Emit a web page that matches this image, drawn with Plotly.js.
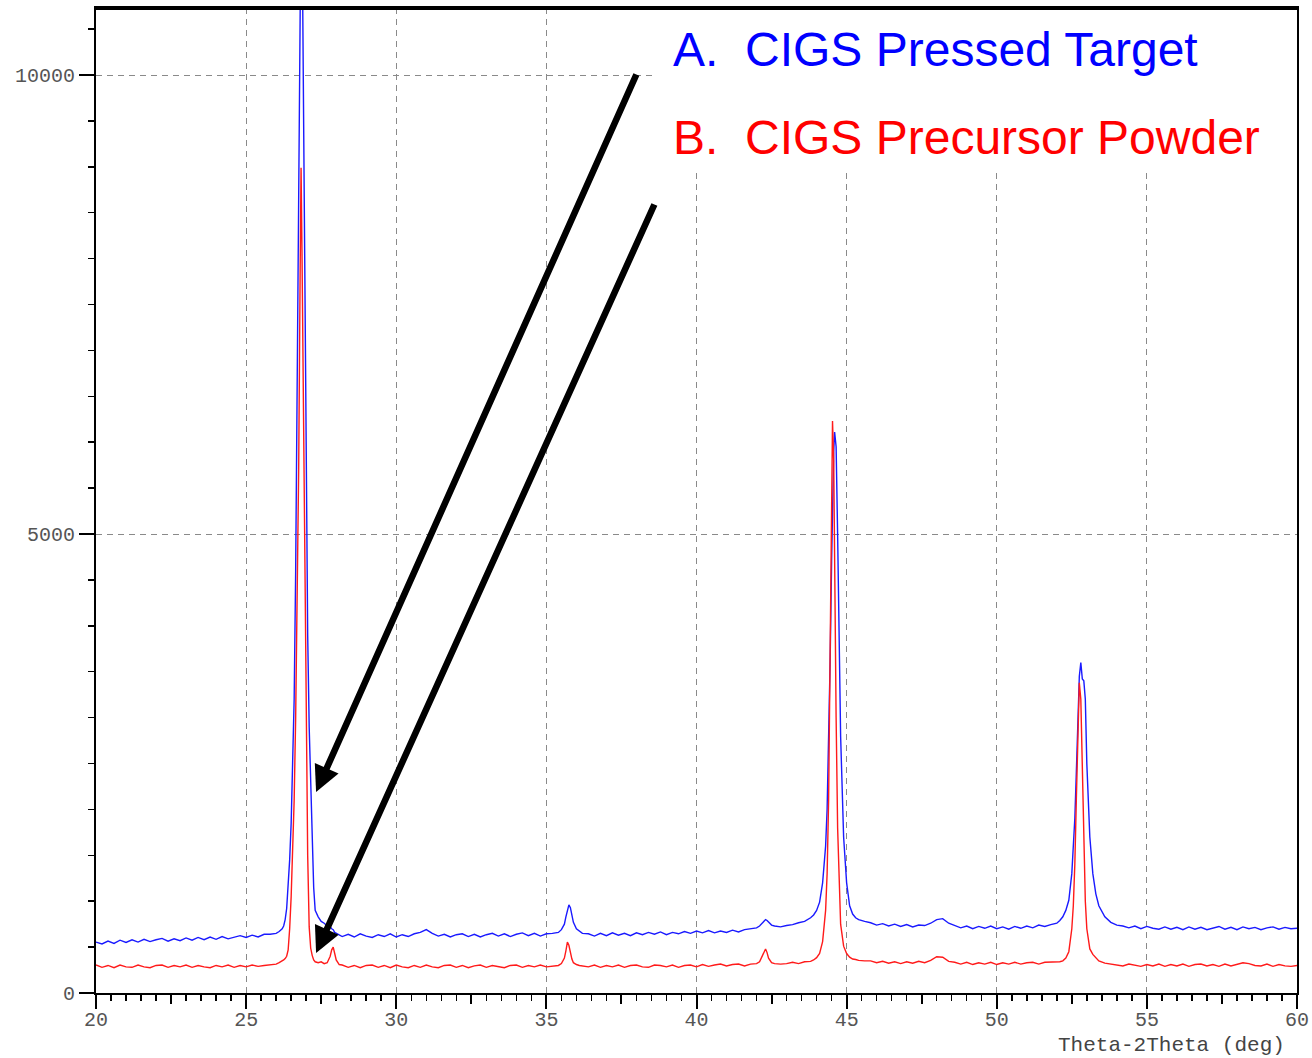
<!DOCTYPE html>
<html>
<head>
<meta charset="utf-8">
<script src="https://cdn.plot.ly/plotly-3.0.1.min.js"></script>
<style>html,body{margin:0;padding:0;background:#fff;}#chart{width:1312px;height:1058px;}</style>
</head>
<body>
<div id="chart"></div>
<script>
// 2-theta positions (deg)
const theta = [
  20.0,20.2,20.4,20.6,20.8,21.0,21.2,21.4,21.6,21.8,22.0,22.2,22.4,22.6,22.8,23.0,23.2,23.4,23.6,23.8,24.0,24.2,24.4,24.6,24.8,25.0,25.2,25.4,25.6,25.8,
  26.0,26.1,26.2,26.25,26.3,26.35,26.4,26.45,26.5,26.55,26.6,26.65,26.7,26.75,26.8,26.83,26.86,26.9,26.95,27.0,27.05,27.1,27.15,27.2,27.25,27.3,27.4,27.5,27.6,27.7,27.8,27.85,27.9,27.95,28.0,28.1,
  28.2,28.4,28.6,28.8,29.0,29.2,29.4,29.6,29.8,30.0,30.2,30.4,30.6,30.8,31.0,31.2,31.4,31.6,31.8,32.0,32.2,32.4,32.6,32.8,33.0,33.2,33.4,33.6,33.8,34.0,34.2,34.4,34.6,34.8,35.0,35.2,
  35.4,35.5,35.6,35.65,35.7,35.75,35.8,35.85,35.9,36.0,36.1,36.2,
  36.4,36.6,36.8,37.0,37.2,37.4,37.6,37.8,38.0,38.2,38.4,38.6,38.8,39.0,39.2,39.4,39.6,39.8,40.0,40.2,40.4,40.6,40.8,41.0,41.2,41.4,41.6,41.8,
  42.0,42.1,42.2,42.25,42.3,42.35,42.4,42.5,42.6,42.8,
  43.0,43.2,43.4,43.6,43.8,43.9,
  44.0,44.1,44.2,44.3,44.35,44.4,44.45,44.5,44.53,44.57,44.6,44.65,44.7,44.75,44.8,44.9,45.0,45.1,45.2,45.3,45.4,45.6,
  45.8,46.0,46.2,46.4,46.6,46.8,47.0,47.2,47.4,47.6,47.8,48.0,48.2,48.4,48.6,48.8,49.0,49.2,49.4,49.6,49.8,50.0,50.2,50.4,50.6,50.8,51.0,51.2,51.4,51.6,51.8,
  52.0,52.1,52.2,52.3,52.4,52.5,52.55,52.6,52.65,52.7,52.75,52.8,52.85,52.9,52.95,53.0,53.1,53.2,53.3,53.4,53.6,
  53.8,54.0,54.2,54.4,54.6,54.8,55.0,55.2,55.4,55.6,55.8,56.0,56.2,56.4,56.6,56.8,57.0,57.2,57.4,57.6,57.8,58.0,58.2,58.4,58.6,58.8,59.0,59.2,59.4,59.6,59.8,60.0
];

// A. CIGS Pressed Target (blue)
const pressedTarget = [
  555,535,565,540,575,550,580,555,585,560,580,595,565,590,570,600,575,605,580,610,585,615,590,610,625,605,630,610,640,640,
  650,670,700,730,800,920,1150,1450,1850,2400,3200,4600,6400,8600,10900,11900,11800,10200,7400,5400,3900,2900,2300,1700,1150,900,830,780,760,730,720,700,690,660,650,630,
  615,640,610,645,620,605,635,615,645,610,635,615,645,660,690,650,620,640,610,635,645,615,640,610,635,650,620,645,615,640,655,625,650,620,645,650,
  660,690,750,830,900,960,930,850,770,700,670,650,
  645,620,650,625,655,630,650,625,655,635,660,640,665,635,660,645,670,650,675,655,680,655,675,660,685,665,690,700,
  710,730,770,790,800,790,770,740,730,720,
  735,745,765,780,820,850,
  900,990,1200,1600,2000,2700,3600,4700,5300,5900,6110,5950,5000,3800,2800,1700,1200,950,860,820,800,780,
  765,740,755,730,750,725,745,720,740,735,760,800,810,760,735,710,730,700,725,705,730,700,720,695,725,705,730,710,740,725,745,
  760,790,830,900,1010,1300,1550,1900,2400,3000,3450,3600,3420,3400,3200,2500,1700,1300,1080,950,830,
  770,740,730,710,730,700,725,705,695,720,695,715,690,720,695,715,690,710,725,695,715,690,720,700,715,690,710,720,695,715,700,705
];

// B. CIGS Precursor Powder (red)
const precursorPowder = [
  305,280,300,275,305,285,280,305,285,275,300,305,280,300,285,305,280,300,285,275,300,285,305,280,300,285,305,290,300,310,
  315,330,345,360,375,400,470,700,1050,1500,2100,3000,4300,5700,7900,8990,8100,6600,5300,3200,1500,720,490,410,360,340,330,340,320,330,400,470,500,430,360,310,
  305,280,300,275,300,305,280,300,275,305,285,275,300,280,305,285,275,300,305,280,300,275,295,305,280,300,285,275,300,305,280,300,285,305,285,295,
  300,320,380,460,555,520,430,370,330,310,300,295,
  285,305,280,300,285,305,280,300,305,285,280,305,300,285,305,280,300,305,285,310,290,305,315,295,310,315,295,315,
  320,340,410,460,480,440,380,330,320,315,
  320,335,320,340,345,360,
  385,430,560,900,1300,2100,3500,5500,6230,5800,4600,3000,1800,1100,750,510,430,390,370,365,355,350,
  350,330,345,325,340,320,340,325,345,330,355,395,390,345,335,315,335,310,330,315,335,310,330,315,335,315,330,335,315,335,335,
  335,340,350,380,450,700,950,1400,2100,2900,3380,3200,2400,1600,1000,700,480,420,385,350,325,
  315,310,295,315,300,290,310,295,315,290,310,295,315,290,310,315,295,310,290,315,295,315,330,320,300,295,315,290,310,295,290,300
];

const seriesNames = ['A.\u00a0\u00a0CIGS Pressed Target', 'B.\u00a0\u00a0CIGS Precursor Powder'];
const seriesColors = ['#1a1aff', '#ff1a1a'];

const xMajorTicks = [20, 25, 30, 35, 40, 45, 50, 55, 60];
const xMediumTicks = [22.5, 27.5, 32.5, 37.5, 42.5, 47.5, 52.5, 57.5];
const yMajorTicks = [0, 5000, 10000];
const xTitle = 'Theta-2Theta (deg)';

// arrows: [tail theta, tail counts], [head theta, head counts]
const arrowTails = [[38.02, 10022], [38.62, 8606]];
const arrowHeads = [[27.33, 2190], [27.33, 436]];

const yMax = 10730;
const tickFont = {family: 'Liberation Mono, Courier New, monospace', size: 20, color: '#555555'};

const traces = [
  {x: theta, y: pressedTarget, type: 'scatter', mode: 'lines', name: seriesNames[0],
   line: {color: seriesColors[0], width: 1.4}, hoverinfo: 'x+y'},
  {x: theta, y: precursorPowder, type: 'scatter', mode: 'lines', name: seriesNames[1],
   line: {color: seriesColors[1], width: 1.4}, hoverinfo: 'x+y'},
  {x: [], y: [], xaxis: 'x2', yaxis: 'y', type: 'scatter', mode: 'lines', showlegend: false, hoverinfo: 'skip'}
];

const annotations = [];
for (let i = 0; i < arrowHeads.length; i++) {
  annotations.push({
    x: arrowHeads[i][0], y: arrowHeads[i][1], xref: 'x', yref: 'y',
    ax: arrowTails[i][0], ay: arrowTails[i][1], axref: 'x', ayref: 'y',
    text: '', showarrow: true, arrowhead: 2, arrowsize: 0.8, arrowwidth: 6.5,
    arrowcolor: '#000', standoff: 0
  });
}
annotations.push({
  xref: 'paper', yref: 'paper', x: 0.4785, y: 0.9574, xanchor: 'left', yanchor: 'middle',
  text: seriesNames[0], showarrow: false,
  font: {family: 'Liberation Sans, Arial, sans-serif', size: 48, color: '#0000ff'}
});
annotations.push({
  xref: 'paper', yref: 'paper', x: 0.4785, y: 0.869, xanchor: 'left', yanchor: 'middle',
  text: seriesNames[1], showarrow: false,
  font: {family: 'Liberation Sans, Arial, sans-serif', size: 48, color: '#ff0000'}
});
annotations.push({
  xref: 'paper', yref: 'paper', x: 0.9915, y: -0.053, xanchor: 'right', yanchor: 'middle',
  text: xTitle, showarrow: false,
  font: {family: 'Liberation Mono, Courier New, monospace', size: 21, color: '#444444'}
});

const layout = {
  width: 1312, height: 1058,
  margin: {l: 96, r: 15, t: 8, b: 65, pad: 0},
  paper_bgcolor: '#ffffff', plot_bgcolor: '#ffffff',
  showlegend: false,
  xaxis: {
    range: [20, 60], tickmode: 'array', tickvals: xMajorTicks, ticktext: xMajorTicks.map(String),
    ticks: 'outside', ticklen: 14, tickwidth: 2, tickcolor: '#000',
    showline: true, mirror: true, linewidth: 2, linecolor: '#000',
    showgrid: true, gridcolor: '#8a8a8a', gridwidth: 1, griddash: '6px,5px',
    zeroline: false, tickfont: tickFont, ticklabelstandoff: -7,
    minor: {tick0: 20, dtick: 0.5, ticks: 'outside', ticklen: 6, tickwidth: 1.5, tickcolor: '#000', showgrid: false},
    fixedrange: true
  },
  xaxis2: {
    overlaying: 'x', anchor: 'y', side: 'bottom', range: [20, 60],
    tickmode: 'array', tickvals: xMediumTicks, ticks: 'outside', ticklen: 10, tickwidth: 2, tickcolor: '#000',
    showticklabels: false, showgrid: false, showline: false, zeroline: false, fixedrange: true
  },
  yaxis: {
    range: [0, yMax], tickmode: 'array', tickvals: yMajorTicks, ticktext: yMajorTicks.map(String),
    ticks: 'outside', ticklen: 15, tickwidth: 2, tickcolor: '#000',
    showline: true, mirror: true, linewidth: 2, linecolor: '#000',
    showgrid: true, gridcolor: '#8a8a8a', gridwidth: 1, griddash: '6px,5px',
    zeroline: false, tickfont: tickFont,
    minor: {tick0: 0, dtick: 500, ticks: 'outside', ticklen: 6, tickwidth: 1.5, tickcolor: '#000', showgrid: false},
    fixedrange: true
  },
  shapes: [
    {type: 'rect', xref: 'x', yref: 'y', x0: 38.6, x1: 60, y0: 8943, y1: yMax,
     fillcolor: '#ffffff', line: {width: 0}, layer: 'between'},
    {type: 'line', xref: 'paper', yref: 'paper', x0: 0, x1: 1, y0: 1, y1: 1,
     line: {color: '#000', width: 4}, layer: 'above'}
  ],
  annotations: annotations
};

Plotly.newPlot('chart', traces, layout, {staticPlot: true, displayModeBar: false});
</script>
</body>
</html>
